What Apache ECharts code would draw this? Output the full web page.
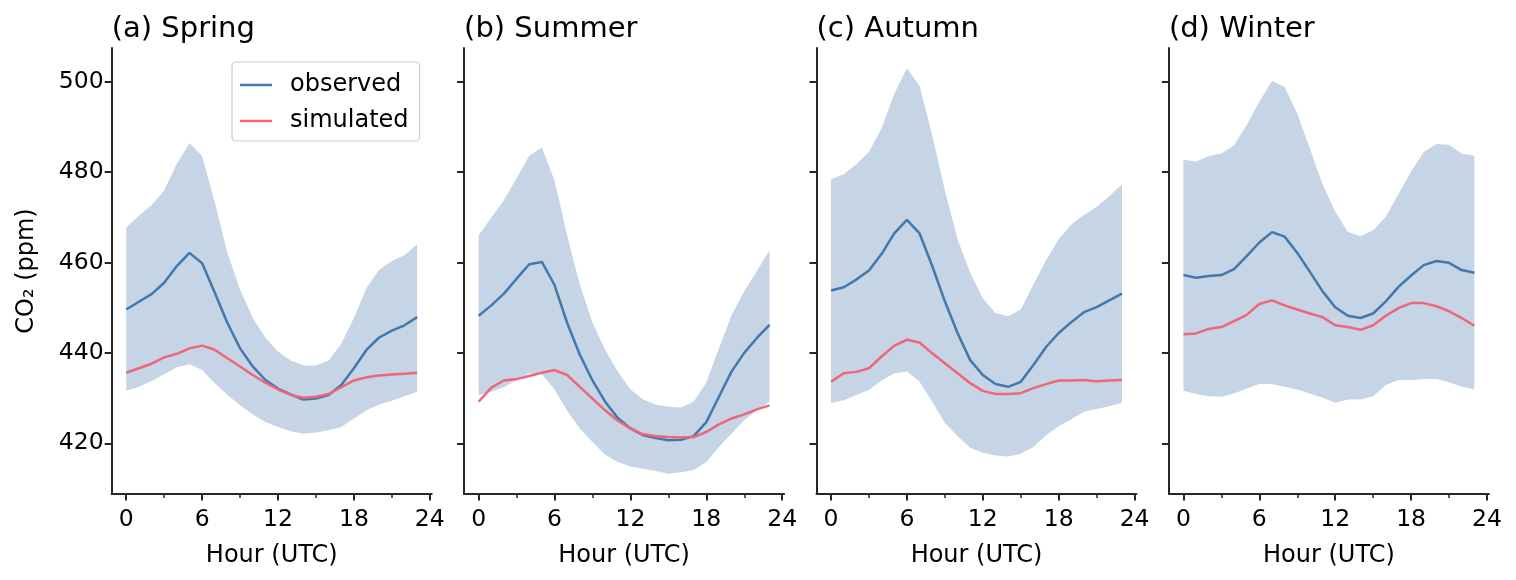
<!DOCTYPE html>
<html>
<head>
<meta charset="utf-8">
<script src="https://cdn.jsdelivr.net/npm/echarts@6/dist/echarts.min.js"></script>
<style>
html,body{margin:0;padding:0;background:#fff;}
#chart{width:1516px;height:580px;}
</style>
</head>
<body>
<div id="chart"></div>
<script>
// ---- data ----
const hours = [0,1,2,3,4,5,6,7,8,9,10,11,12,13,14,15,16,17,18,19,20,21,22,23];
const seasonTitles = ['(a) Spring','(b) Summer','(c) Autumn','(d) Winter'];
const xTickValues = [0,6,12,18,24];
const xMinorTickValues = [3,9,15,21];
const yTickValues = [420,440,460,480,500];

const springObs  = [449.6,451.3,453.0,455.5,459.2,462.1,459.8,453.3,446.6,441.0,437.0,434.0,432.1,430.8,429.7,429.9,430.7,432.9,436.6,440.7,443.4,444.9,446.1,447.9];
const springSim  = [435.6,436.6,437.6,439.0,439.8,441.0,441.6,440.7,438.8,437.0,435.1,433.4,431.9,430.7,430.1,430.3,430.9,432.4,433.9,434.6,435.0,435.2,435.4,435.6];
const springHigh = [467.7,470.3,472.7,475.9,481.8,486.4,483.5,473.3,462.1,454.0,447.7,443.4,440.3,438.3,437.2,437.2,438.3,442.0,447.7,454.4,458.4,460.3,461.6,464.0];
const springLow  = [431.6,432.5,433.8,435.3,436.8,437.5,436.2,433.3,430.7,428.4,426.4,424.7,423.6,422.7,422.1,422.4,422.9,423.6,425.5,427.3,428.6,429.4,430.4,431.4];

const summerObs  = [448.2,450.5,453.1,456.4,459.6,460.1,455.0,446.6,439.6,433.9,429.2,425.6,423.3,421.8,421.2,420.7,420.8,421.6,424.7,430.3,435.9,440.0,443.3,446.2];
const summerSim  = [429.2,432.3,433.9,434.2,434.9,435.6,436.2,435.1,432.5,429.9,427.3,425.0,423.3,422.0,421.6,421.4,421.3,421.4,422.5,424.2,425.5,426.4,427.5,428.4];
const summerHigh = [466.0,469.9,473.8,478.6,483.6,485.4,478.1,465.9,455.1,446.7,440.7,435.9,431.9,429.7,428.6,428.1,427.9,429.2,433.4,441.0,448.4,453.6,458.1,462.7];
const summerLow  = [430.7,431.4,432.4,434.0,435.5,435.3,431.9,427.2,423.3,420.3,417.5,415.9,414.9,414.4,413.9,413.3,413.6,414.1,415.9,419.2,422.2,425.1,427.3,429.2];

const autumnObs  = [453.8,454.5,456.2,458.2,461.9,466.4,469.4,466.4,459.2,451.4,444.4,438.4,435.1,433.1,432.5,433.6,437.3,441.3,444.4,446.8,449.0,450.1,451.6,453.1];
const autumnSim  = [433.6,435.5,435.8,436.6,439.2,441.6,442.9,442.3,439.9,437.7,435.5,433.3,431.6,430.9,430.9,431.1,432.2,433.1,433.9,433.9,434.0,433.7,433.9,434.0];
const autumnHigh = [478.4,479.5,481.7,484.4,489.7,497.3,502.9,499.0,488.1,475.9,465.1,457.7,452.1,448.8,448.1,449.6,455.1,460.5,465.1,468.4,470.5,472.3,474.7,477.2];
const autumnLow  = [429.0,429.5,430.7,431.8,433.9,435.5,435.9,433.6,429.2,424.5,421.6,419.0,417.9,417.3,417.1,417.7,419.2,421.8,423.8,425.3,427.0,427.6,428.2,429.0];

const winterObs  = [457.2,456.6,457.0,457.2,458.5,461.4,464.4,466.7,465.7,462.1,457.9,453.6,450.1,448.2,447.7,448.7,451.4,454.6,457.1,459.4,460.3,459.9,458.3,457.7];
const winterSim  = [444.1,444.3,445.3,445.7,447.0,448.4,450.8,451.6,450.5,449.6,448.7,447.9,446.1,445.7,445.1,446.1,448.2,449.9,451.0,451.0,450.3,449.2,447.7,446.0];
const winterHigh = [482.7,482.3,483.5,484.1,485.9,490.4,495.5,500.1,498.8,492.9,485.1,477.3,471.2,466.7,465.8,467.1,470.1,475.1,480.1,484.4,486.2,486.0,484.0,483.6];
const winterLow  = [431.6,430.9,430.4,430.3,431.0,432.1,433.1,433.1,432.5,431.9,431.0,430.1,429.0,429.7,429.7,430.4,432.9,434.0,434.0,434.2,434.2,433.5,432.5,431.9];

const seasons = [
  {obs: springObs, sim: springSim, high: springHigh, low: springLow},
  {obs: summerObs, sim: summerSim, high: summerHigh, low: summerLow},
  {obs: autumnObs, sim: autumnSim, high: autumnHigh, low: autumnLow},
  {obs: winterObs, sim: winterSim, high: winterHigh, low: winterLow}
];

// ---- styling ----
const FONT = 'DejaVu Sans';
const OBS_COLOR = '#4477AA';
const SIM_COLOR = '#EE6677';
const BAND_COLOR = 'rgba(68,119,170,0.31)';
const AXIS_COLOR = '#262626';
const gridLefts = [111.7, 464.1, 816.5, 1168.9];
const GRID_W = 320, GRID_TOP = 48, GRID_H = 446;
const X_MIN = -1.15, X_MAX = 24.15, Y_MIN = 408.8, Y_MAX = 507.4;

const pair = (arr) => hours.map((h, i) => [h, arr[i]]);

// band polygon: drawn once (at first item) through the axis scales
function bandRenderItem(params, api) {
  if (params.dataIndexInside !== 0) return null;
  const n = params.dataInsideLength;
  const upper = [], lower = [];
  for (let i = 0; i < n; i++) {
    const x = api.value(0, i);
    upper.push(api.coord([x, api.value(2, i)]));
    lower.push(api.coord([x, api.value(1, i)]));
  }
  const pts = upper.concat(lower.reverse());
  return {
    type: 'polygon',
    shape: {points: pts},
    style: {fill: BAND_COLOR, stroke: null}
  };
}

const grids = [], xAxes = [], yAxes = [], series = [], titles = [];
seasons.forEach((s, g) => {
  grids.push({left: gridLefts[g], top: GRID_TOP, width: GRID_W, height: GRID_H, containLabel: false});
  titles.push({
    text: seasonTitles[g], left: gridLefts[g], top: 15, padding: 0,
    textStyle: {fontFamily: FONT, fontSize: 29, fontWeight: 'normal', color: '#000'}
  });
  xAxes.push({
    type: 'value', gridIndex: g, min: X_MIN, max: X_MAX,
    name: 'Hour (UTC)', nameLocation: 'middle', nameGap: 50,
    nameTextStyle: {fontFamily: FONT, fontSize: 24, color: '#000'},
    axisLine: {show: true, onZero: false, lineStyle: {color: AXIS_COLOR, width: 2}},
    axisTick: {show: true, length: 6.5, customValues: xTickValues, lineStyle: {color: AXIS_COLOR, width: 2}},
    axisLabel: {show: true, customValues: xTickValues, margin: 14, fontFamily: FONT, fontSize: 23.5, color: '#000'},
    splitLine: {show: false}
  });
  xAxes.push({
    type: 'value', gridIndex: g, min: X_MIN, max: X_MAX, position: 'bottom',
    axisLine: {show: false, onZero: false},
    axisTick: {show: true, length: 4, customValues: xMinorTickValues, lineStyle: {color: AXIS_COLOR, width: 1.5}},
    axisLabel: {show: false},
    splitLine: {show: false}
  });
  yAxes.push({
    type: 'value', gridIndex: g, min: Y_MIN, max: Y_MAX,
    name: g === 0 ? 'CO₂ (ppm)' : '', nameLocation: 'middle', nameGap: 73, nameRotate: 90,
    nameTextStyle: {fontFamily: FONT, fontSize: 24, color: '#000'},
    axisLine: {show: true, onZero: false, lineStyle: {color: AXIS_COLOR, width: 2}},
    axisTick: {show: true, length: 7, customValues: yTickValues, lineStyle: {color: AXIS_COLOR, width: 2}},
    axisLabel: {show: g === 0, customValues: yTickValues, margin: 8, fontFamily: FONT, fontSize: 23.5, color: '#000'},
    splitLine: {show: false}
  });
  const xi = g * 2;
  series.push({
    name: 'band-' + g, type: 'custom', xAxisIndex: xi, yAxisIndex: g,
    data: hours.map((h, i) => [h, s.low[i], s.high[i]]),
    encode: {x: 0, y: [1, 2]},
    renderItem: bandRenderItem, silent: true, z: 1
  });
  series.push({
    name: 'observed', type: 'line', xAxisIndex: xi, yAxisIndex: g,
    data: pair(s.obs), symbol: 'none', color: OBS_COLOR,
    lineStyle: {color: OBS_COLOR, width: 2.5}, z: 3
  });
  series.push({
    name: 'simulated', type: 'line', xAxisIndex: xi, yAxisIndex: g,
    data: pair(s.sim), symbol: 'none', color: SIM_COLOR,
    lineStyle: {color: SIM_COLOR, width: 2.5}, z: 4
  });
});

const chart = echarts.init(document.getElementById('chart'), null, {renderer: 'canvas'});
chart.setOption({
  animation: false,
  backgroundColor: '#fff',
  title: titles,
  legend: {
    data: ['observed', 'simulated'],
    orient: 'vertical', left: 232, top: 62,
    padding: [11, 11, 8, 8], itemGap: 12,
    itemWidth: 32, itemHeight: 2.5, icon: 'rect',
    borderColor: '#cccccc', borderWidth: 1.2, borderRadius: 4,
    backgroundColor: 'rgba(255,255,255,0.8)',
    textStyle: {fontFamily: FONT, fontSize: 24, color: '#000', lineHeight: 24, padding: [0, 0, 0, 13]}
  },
  grid: grids,
  xAxis: xAxes,
  yAxis: yAxes,
  series: series
});
</script>
</body>
</html>
